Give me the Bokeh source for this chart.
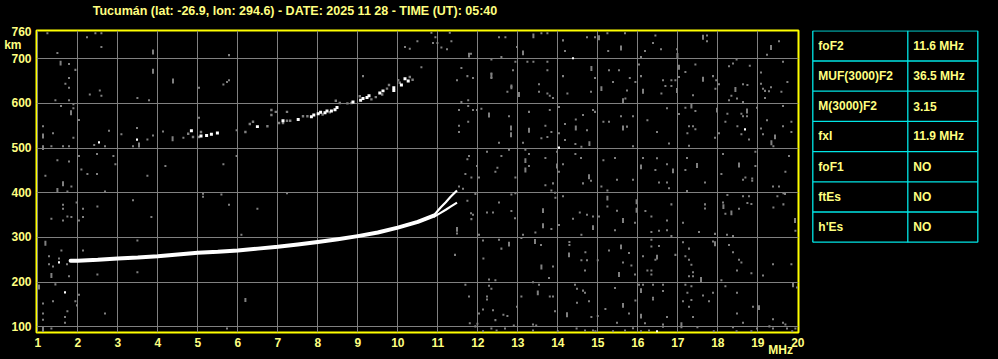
from bokeh.plotting import figure
from bokeh.layouts import row
from bokeh.models import FixedTicker, Range1d, ColumnDataSource, LinearAxis
from bokeh.core.properties import value
from bokeh.embed import file_html
from bokeh.resources import INLINE

# ---------------- data ----------------
title_text = "Tucumán (lat: -26.9, lon: 294.6) - DATE: 2025 11 28 - TIME (UT): 05:40"
x_ticks = list(range(1, 21))
y_ticks = [100, 200, 300, 400, 500, 600, 700, 760]
y_grid = [100, 200, 300, 400, 500, 600, 700]
y_unit_tick, y_unit_text = 730, "km\u00a0\u00a0\u00a0"
x_unit_tick, x_unit_text = 19.57, "MHz"
title_tick = 7.43

# main F2 trace (1-hop)
trace_mhz = [1.82, 2.0, 2.5, 3.0, 3.5, 4.0, 4.5, 5.0, 5.5, 6.0, 6.5, 7.0, 7.5, 8.0, 8.5, 9.0, 9.5, 10.0, 10.5, 10.9]
trace_km = [248, 248, 250, 253, 255, 258, 262, 266, 268, 271, 275, 279, 284, 290, 296, 303, 311, 322, 335, 349]
branch_o_mhz = [10.9, 11.07, 11.2, 11.32, 11.48]
branch_o_km = [349, 367, 379, 391, 405]
branch_x_mhz = [10.9, 11.07, 11.2, 11.32, 11.48]
branch_x_km = [346, 355, 362, 369, 378]

# 2-hop trace
hop2_white_mhz = [4.84, 5.08, 5.22, 5.34, 5.49, 6.49, 7.13, 7.51, 7.84, 7.9, 8.01, 8.07, 8.18, 8.23, 8.34, 8.43, 8.48,
                  8.88, 9.07, 9.13, 9.23, 9.28, 9.55, 9.63, 9.9, 9.9, 10.09, 10.18, 10.26]
hop2_white_km = [539, 527, 528, 531, 534, 548, 561, 564, 570, 574, 577, 580, 579, 583, 583, 586, 591,
                 603, 607, 611, 613, 617, 623, 628, 635, 629, 641, 655, 650]
hop2_gray_mhz = [4.76, 4.88, 5.03, 5.08, 6.19, 6.3, 6.38, 6.74, 6.84, 6.84, 6.95, 7.03, 7.13, 7.23, 7.31, 7.23, 7.63, 7.74,
                 8.45, 8.55, 8.74, 8.84, 9.05, 9.34, 9.45, 9.61, 9.73, 9.78, 10.01, 10.05, 10.3, 10.37, 8.3, 8.12]
hop2_gray_km = [532, 525, 525, 536, 536, 554, 559, 549, 585, 574, 581, 556, 556, 561, 561, 581, 571, 571,
                606, 601, 600, 601, 616, 609, 614, 620, 633, 641, 652, 646, 659, 653, 580, 575]

# isolated bright echoes
white_dot_mhz = [2.53, 1.53, 1.68, 3.48, 14.38, 14.03, 18.68, 16.48]
white_dot_km = [513, 244, 177, 519, 701, 501, 542, 90]

# background noise (small gray pixels)
noise_mhz = [
    1.24, 2.23, 2.44, 2.59, 2.59, 1.49, 5.78, 1.78, 1.94, 1.78, 1.69, 1.78, 2.55, 2.3, 2.59, 5.78, 5.73, 5.64, 5.03, 3.49,
    3.78, 1.44, 1.78, 1.89, 1.89, 1.58, 2.03, 5.03, 1.13, 1.38, 2.78, 3.48, 3.09, 4.13, 1.89, 2.41, 2.68, 1.34,
    1.63, 1.78, 3.38, 3.74, 3.88, 4.64, 2.03, 2.48, 2.89, 2.94, 1.49, 1.78, 2.09, 2.24, 2.48, 1.19, 3.74, 4.19,
    5.64, 1.84, 1.74, 2.68, 5.13, 5.13, 5.59, 5.78, 3.38, 1.97, 1.63, 1.63, 2.13, 2.49, 1.34, 1.74, 2.03, 1.63, 1.84,
    2.13, 3.84, 3.49, 1.59, 2.13, 1.28, 1.38, 1.28, 1.53, 1.73, 1.78, 2.49, 3.49, 1.44, 2.03, 1.94, 1.98, 1.38, 1.13,
    1.13, 1.13, 1.74, 1.68, 1.68, 2.68, 1.34, 5.73,
    5.97, 5.97, 7.23, 6.49, 6.09, 6.19, 6.19, 10.18, 10.3, 10.49, 10.84, 10.94, 10.88, 10.99, 11.09, 11.23, 11.3,
    11.34, 11.43, 9.13, 10.59,
    12.53, 12.69, 13.59, 13.74, 11.83, 12.59, 12.98, 14.13, 14.18, 14.73, 14.93, 15.24, 15.68, 15.26,
    12.34, 12.94, 13.24, 13.39, 13.74, 11.59, 11.88, 11.74, 12.34, 12.34, 12.88, 11.48, 12.84, 12.74, 13.53, 13.53,
    13.74, 13.74, 13.8, 13.88, 14.13, 14.24, 14.93, 14.83, 15.28, 15.53, 15.38, 15.73, 15.8, 15.94, 15.69, 11.59, 11.76,
    11.53, 11.88, 11.98, 11.76, 12.09, 11.53, 11.53, 11.76, 12.78, 12.53, 13.28, 13.13, 13.59, 13.74, 13.69, 13.84,
    13.8, 14.03, 14.18, 14.03, 14.18, 14.45, 14.63, 14.73, 14.88, 14.93, 14.44, 15.14, 15.28, 15.58, 15.73, 15.88, 14.59,
    12.23, 12.59, 12.78, 11.78, 11.74, 11.98, 12.03, 11.69, 11.84, 12.49, 12.44, 12.94, 13.19, 13.28, 13.28, 13.69,
    13.98, 14.03, 13.88, 13.69, 14.13, 14.44, 14.58, 14.83, 14.63, 15.14, 15.43, 15.09, 15.48, 15.88, 15.88, 11.63,
    11.53, 15.24, 13.84, 13.93,
    11.94, 12.84, 12.94, 11.74, 13.94, 14.13, 12.53, 11.83, 11.88, 11.84, 12.23, 12.38, 12.84, 12.93, 14.03, 13.84,
    13.44, 14.55, 14.73, 14.88, 15.03, 15.24, 15.48, 15.93, 14.38, 14.59, 15.43, 11.48, 12.03, 13.13, 13.09,
    12.13, 12.53, 12.59, 13.58, 12.14, 14.29, 14.29, 14.69, 14.59, 14.73, 14.68, 15.0, 13.88, 13.78, 15.28, 15.78,
    15.63, 15.84, 15.93,
    11.69, 12.28, 12.28, 12.34, 12.44, 11.78, 12.23, 12.23, 12.13, 12.38, 12.03, 12.64, 12.74, 12.44, 12.98, 13.09,
    13.38, 13.53, 13.88, 13.8, 13.93, 14.43, 14.48, 14.63, 14.68, 14.48, 14.78, 15.0, 14.84, 15.19, 15.43, 15.78,
    15.94, 12.9, 13.38, 13.46, 15.48,
    11.94, 12.34, 12.47, 12.13, 12.68, 13.38, 14.0, 14.68, 14.88, 14.94, 15.38, 15.68, 15.88, 14.47, 11.99, 11.8,
    16.44, 16.38, 16.58, 16.18, 16.08, 16.98, 17.73, 17.73, 19.23, 19.53,
    16.03, 16.08, 16.63, 16.84, 16.94, 16.69, 16.84, 16.59, 17.19, 17.44, 17.03, 17.38, 17.88, 17.96, 18.03, 17.94,
    18.28, 18.38, 18.47, 18.63, 18.74, 18.8, 18.34, 18.28, 18.48, 18.63, 19.08, 19.08, 19.13, 19.18, 19.28, 19.33,
    19.18, 19.59, 19.74, 19.63,
    16.73, 16.24, 16.48, 16.78, 17.19, 17.44, 17.03, 17.28, 17.38, 17.44, 17.24, 17.28, 17.93, 18.03, 18.24, 18.19,
    18.49, 18.59, 18.63, 18.73, 18.59, 18.78, 18.98, 19.23, 19.08, 19.13, 19.39, 19.63, 19.63, 19.84, 19.84,
    16.13, 16.48, 16.44, 16.73, 16.53, 16.73, 16.78, 17.23, 17.19, 17.68, 17.23, 18.13, 18.09, 18.63, 18.69, 18.86,
    18.86, 18.94, 18.94, 19.69, 19.78, 19.38, 19.53,
    16.19, 16.34, 16.84, 16.73, 16.34, 16.53, 16.73, 16.84, 17.13, 17.53, 17.68, 17.68, 18.13, 18.24, 18.19, 18.53,
    18.63, 18.78, 18.74, 18.84, 17.93, 18.23, 18.38, 19.39, 19.49, 19.64, 19.68, 19.64, 19.94,
    16.34, 16.53, 16.34, 16.13, 16.44, 16.24, 16.34, 16.34, 16.94, 17.13, 17.28, 17.19, 17.28, 17.34, 17.38, 17.28,
    17.38, 17.88, 18.28, 18.38, 18.53, 18.59, 18.48, 18.84, 19.13, 19.38, 19.84, 18.09,
    16.03, 16.13, 16.38, 16.63, 16.63, 16.38, 16.38, 16.73, 16.63, 17.19, 17.34, 17.24, 17.34, 17.13, 17.28, 17.63,
    17.78, 17.88, 17.38, 17.49, 18.19, 18.48, 18.48, 18.63, 18.88, 19.38, 19.98, 19.63, 19.69,
    16.63, 17.09, 18.38, 18.47, 18.84, 18.98, 19.29, 19.38, 19.73, 19.86, 19.94, 17.9, 16.18, 16.08, 16.28,
]
noise_km = [
    757, 748, 757, 757, 726, 713, 708, 688, 675, 657, 644, 635, 629, 620, 617, 652, 648, 642, 635, 612,
    607, 607, 607, 598, 589, 594, 563, 568, 549, 533, 539, 545, 531, 537, 523, 507, 504, 504,
    504, 504, 504, 519, 528, 523, 482, 487, 482, 464, 473, 470, 452, 442, 442, 438, 438, 460,
    464, 414, 403, 403, 398, 391, 396, 373, 383, 378, 373, 364, 364, 369, 342, 347, 338, 338, 346,
    346, 346, 293, 271, 271, 258, 235, 240, 253, 240, 213, 217, 222, 195, 172, 157, 148, 157, 152,
    130, 116, 135, 122, 109, 130, 96, 96,
    540, 482, 399, 364, 306, 162, 158, 726, 722, 739, 758, 748, 735, 735, 725, 721, 758,
    739, 261, 661, 681,
    748, 748, 757, 757, 711, 704, 726, 741, 717, 748, 748, 757, 757, 717,
    698, 693, 693, 693, 693, 679, 657, 661, 667, 657, 674, 652, 637, 626, 643, 626,
    674, 622, 617, 612, 661, 622, 657, 626, 674, 674, 648, 629, 657, 648, 611, 603, 607,
    585, 585, 585, 594, 588, 550, 536, 559, 571, 512, 581, 512, 522, 525, 550, 536,
    585, 592, 554, 533, 518, 564, 574, 540, 585, 581, 509, 559, 559, 571, 548, 571, 503,
    492, 482, 496, 482, 475, 460, 434, 442, 434, 456, 447, 434, 496, 487, 460, 478,
    492, 447, 421, 417, 464, 487, 478, 427, 421, 473, 478, 414, 429, 429, 504, 409,
    414, 405, 405, 400,
    397, 396, 399, 382, 389, 392, 378, 354, 351, 341, 356, 356, 359, 343, 328, 319,
    311, 356, 351, 347, 347, 369, 360, 333, 342, 306, 316, 309, 306, 306, 299,
    293, 295, 275, 283, 253, 290, 283, 267, 249, 249, 226, 249, 235, 209, 271, 265,
    244, 237, 217,
    194, 206, 192, 185, 204, 168, 168, 161, 139, 137, 130, 127, 124, 115, 145, 168,
    200, 194, 168, 168, 135, 194, 185, 181, 176, 154, 157, 124, 122, 140, 187, 130,
    159, 103, 105, 103, 109,
    101, 96, 92, 90, 96, 92, 90, 92, 92, 90, 90, 92, 97, 96, 107, 108,
    752, 735, 721, 717, 704, 721, 752, 739, 709, 739,
    687, 661, 652, 652, 652, 639, 639, 622, 670, 687, 659, 618, 661, 652, 643, 633,
    683, 689, 698, 643, 641, 684, 617, 607, 611, 603, 669, 644, 633, 628, 627, 636,
    612, 626, 648, 693,
    589, 562, 536, 510, 590, 583, 576, 549, 549, 542, 533, 505, 523, 533, 577, 559,
    549, 577, 571, 571, 531, 519, 590, 562, 544, 531, 504, 594, 549, 559, 536,
    478, 477, 451, 464, 423, 423, 410, 478, 451, 423, 404, 487, 442, 429, 434, 432,
    427, 492, 460, 447, 482, 414, 414,
    359, 347, 374, 338, 312, 315, 316, 303, 333, 312, 374, 365, 378, 395, 353, 364,
    392, 392, 377, 375, 308, 306, 303, 367, 392, 399, 397, 374, 315,
    295, 281, 280, 258, 250, 226, 226, 217, 261, 289, 275, 258, 250, 239, 222, 213,
    213, 291, 283, 267, 250, 244, 226, 220, 215, 240, 240, 204,
    194, 194, 194, 194, 180, 165, 161, 122, 105, 194, 191, 176, 160, 157, 145, 170,
    157, 176, 122, 99, 191, 176, 130, 109, 145, 117, 188, 109, 105,
    100, 99, 99, 90, 90, 96, 101, 96, 96, 90, 96, 90, 108, 90, 92,
]

# taller gray streaks
tall_mhz = [1.57, 3.88, 3.88, 4.38, 1.13, 4.37, 1.83, 1.63, 1.49, 1.19, 1.34, 1.03, 1.13, 1.13, 3.53,
            11.78, 13.13, 13.39, 15.03, 15.58, 12.34, 12.84, 13.03, 14.84, 15.09, 15.63, 12.28, 12.83, 12.83,
            13.28, 14.45, 14.79, 15.63, 13.19, 13.19, 13.98, 14.78, 15.24, 13.63, 13.63, 14.88, 15.63, 11.48,
            12.78, 13.43, 14.28, 13.59, 15.58, 15.53, 13.5, 14.23, 15.63,
            16.99, 17.63, 19.33, 16.13, 17.03, 17.63, 16.98, 18.44, 17.98, 18.73, 17.34, 19.43, 19.34, 16.08,
            16.88, 17.48, 18.53, 15.97, 15.97, 18.14, 18.34, 19.93, 17.93, 16.48, 17.58, 16.08, 16.08, 17.09,
            19.03, 19.88]
tall_km = [690, 715, 672, 650, 527, 521, 579, 420, 405, 287, 215, 189, 94, 501, 507,
           708, 713, 751, 747, 724, 662, 637, 620, 678, 633, 606, 574, 545, 530,
           540, 545, 510, 545, 472, 451, 460, 436, 388, 360, 326, 322, 338, 318,
           285, 291, 261, 234, 279, 217, 176, 127, 148,
           707, 748, 725, 627, 681, 654, 629, 631, 585, 583, 594, 525, 512, 458,
           449, 461, 462, 380, 361, 369, 355, 338, 286, 256, 206, 181, 124, 105,
           143, 194]

# parameter table
param_names = ["foF2", "MUF(3000)F2", "M(3000)F2", "fxI", "foF1", "ftEs", "h'Es"]
param_values = ["11.6 MHz", "36.5 MHz", "3.15", "11.9 MHz", "NO", "NO", "NO"]

# ---------------- styling ----------------
BG = "black"
GRID = "#808080"
NOISE = "#808080"
YEL = "#ffff00"
TXT = "#ffff80"
CYAN = "#00e6e6"
FONT = "Liberation Sans"


def style_axis(ax, size="12px"):
    ax.axis_line_color = None
    ax.major_tick_line_color = None
    ax.minor_tick_line_color = None
    ax.major_label_text_color = TXT
    ax.major_label_text_font = FONT
    ax.major_label_text_font_style = "bold"
    ax.major_label_text_font_size = size
    ax.major_tick_out = 0
    ax.major_tick_in = 0


p = figure(width=808, height=359, output_backend="svg", toolbar_location=None,
           x_range=Range1d(0.9675, 20.0175), y_range=Range1d(87.3, 763.1),
           min_border_left=36, min_border_right=10, min_border_top=30, min_border_bottom=26)
p.background_fill_color = BG
p.border_fill_color = BG
p.outline_line_color = YEL
p.outline_line_width = 2

p.xaxis.ticker = FixedTicker(ticks=x_ticks)
p.yaxis.ticker = FixedTicker(ticks=y_ticks + [y_unit_tick])
p.yaxis.major_label_overrides = {y_unit_tick: y_unit_text}
p.xgrid.ticker = FixedTicker(ticks=x_ticks[:-1])
p.ygrid.ticker = FixedTicker(ticks=y_grid)
for g in (p.xgrid, p.ygrid):
    g.grid_line_color = GRID
    g.grid_line_width = 1
style_axis(p.xaxis[0])
style_axis(p.yaxis[0])
p.xaxis.major_label_standoff = 5
p.yaxis.major_label_standoff = 5

# unit label "MHz" below the frequency numbers
unit_ax = LinearAxis(ticker=FixedTicker(ticks=[x_unit_tick]),
                     major_label_overrides={x_unit_tick: x_unit_text})
style_axis(unit_ax)
unit_ax.major_label_standoff = -7
p.add_layout(unit_ax, "below")

# title line above the frame
title_ax = LinearAxis(ticker=FixedTicker(ticks=[title_tick]),
                      major_label_overrides={title_tick: title_text})
style_axis(title_ax, "12.5px")
title_ax.major_label_standoff = 13
p.add_layout(title_ax, "above")

# noise
p.rect(noise_mhz, noise_km, width=0.05, height=4.5, color=NOISE, line_width=0)
p.rect(tall_mhz, tall_km, width=0.05, height=11, color=NOISE, line_width=0)

# 2-hop trace
p.rect(hop2_gray_mhz, hop2_gray_km, width=0.06, height=5.5, color=NOISE, line_width=0)
p.rect(hop2_white_mhz, hop2_white_km, width=0.075, height=6.7, color="white", line_width=0)

# main trace
p.line(trace_mhz, trace_km, line_color="white", line_width=4, line_join="round", line_cap="round")
p.line(branch_o_mhz, branch_o_km, line_color="white", line_width=2.2, line_join="round")
p.line(branch_x_mhz, branch_x_km, line_color="white", line_width=2.2, line_join="round")
p.rect(white_dot_mhz, white_dot_km, width=0.05, height=5, color="white", line_width=0)

# ---------------- table ----------------
t = figure(width=190, height=359, output_backend="svg", toolbar_location=None,
           x_range=Range1d(808, 998), y_range=Range1d(333, 30),
           min_border_left=0, min_border_right=0, min_border_top=30, min_border_bottom=26)
t.background_fill_color = BG
t.border_fill_color = BG
t.outline_line_color = None
t.axis.visible = False
t.grid.visible = False

tab_left, tab_mid, tab_right, tab_top, row_h = 812.3, 907.3, 977.3, 30.3, 30.3
n = len(param_names)
ys = [tab_top + i * row_h for i in range(n + 1)]
t.segment(x0=[tab_left] * (n + 1), x1=[tab_right] * (n + 1), y0=ys, y1=ys, line_color=CYAN, line_width=1.3)
t.segment(x0=[tab_left, tab_mid, tab_right], x1=[tab_left, tab_mid, tab_right],
          y0=[ys[0]] * 3, y1=[ys[-1]] * 3, line_color=CYAN, line_width=1.3)
centers = [tab_top + (i + 0.5) * row_h for i in range(n)]
src = ColumnDataSource(dict(name=param_names, val=param_values, y=centers,
                            x1=[tab_left + 5.5] * n, x2=[tab_mid + 5.5] * n))
t.text(x="x1", y="y", text="name", source=src, text_color=TXT, text_font=value(FONT),
       text_font_style="bold", text_font_size="12px", text_baseline="middle", text_align="left")
t.text(x="x2", y="y", text="val", source=src, text_color=TXT, text_font=value(FONT),
       text_font_style="bold", text_font_size="12px", text_baseline="middle", text_align="left")

layout = row(p, t, spacing=0)
layout.styles = {"background-color": "black"}
open("out.html", "w").write(file_html(layout, INLINE))
